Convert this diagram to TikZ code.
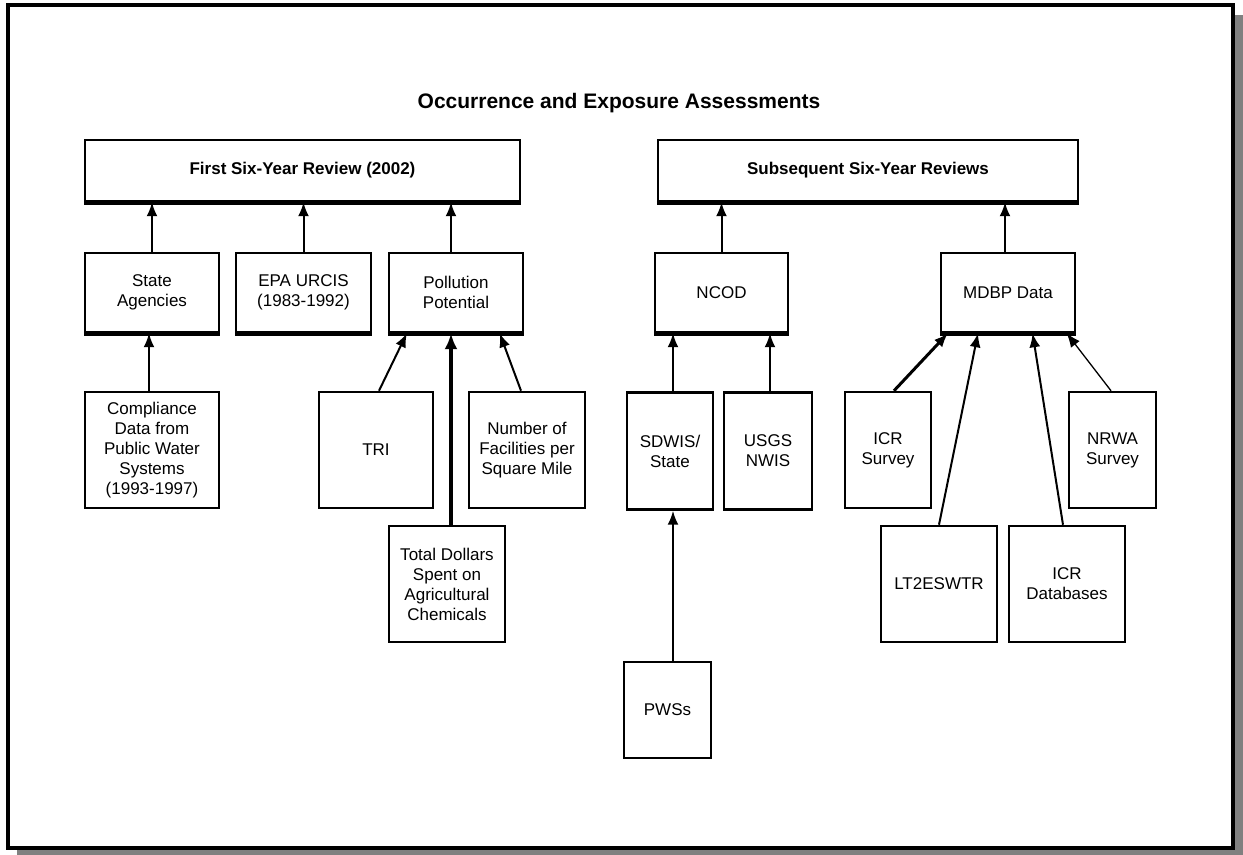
\documentclass[tikz,border=0pt]{standalone}
\usepackage{fontspec}
\setmainfont{Liberation Sans}
\usetikzlibrary{arrows.meta,calc}
\tikzset{srcbox/.style={draw, line width=1.25pt, align=center, inner sep=0pt, font=\fontsize{8.5}{10}\selectfont},
	headbox/.style={srcbox, font=\fontsize{8.5}{10}\selectfont\bfseries},
	feed/.style={line width=1pt, -{Latex[length=7pt,width=5.5pt]}}}

\begin{document}
\begin{tikzpicture}[x=0.5pt, y=-0.5pt]
\useasboundingbox (0,0) rectangle (1243,855);
\fill[gray] (17,15) rectangle (1243,855); % shadow
\draw[line width=2pt, fill=white] (8,5) rectangle (1232.5,848); % frame
\node[font=\fontsize{10.5}{12}\selectfont\bfseries] (title) at (619,103) {Occurrence and Exposure Assessments};
% reviews
\node[headbox, minimum width=217.5pt, minimum height=30.5pt] (first) at (302.5,170.5) {First Six-Year Review (2002)};
\node[headbox, minimum width=210pt, minimum height=30.5pt] (subseq) at (868,170.5) {Subsequent Six-Year Reviews};
% middle row
\node[srcbox, minimum width=67pt, minimum height=39.5pt] (state) at (152,292.5) {State\\Agencies};
\node[srcbox, minimum width=67.5pt, minimum height=39.5pt] (urcis) at (303.5,292.5) {EPA URCIS\\(1983-1992)};
\node[srcbox, minimum width=67pt, minimum height=39.5pt] (pollution) at (456,292.5) {Pollution\\Potential};
\node[srcbox, minimum width=66.5pt, minimum height=39.5pt] (ncod) at (721.5,292.5) {NCOD};
\node[srcbox, minimum width=67pt, minimum height=39.5pt] (mdbp) at (1008,292.5) {MDBP Data};
% data sources
\node[srcbox, minimum width=67pt, minimum height=58pt] (compliance) at (152,450) {Compliance\\Data from\\Public Water\\Systems\\(1993-1997)};
\node[srcbox, minimum width=57pt, minimum height=58pt] (tri) at (376,450) {TRI};
\node[srcbox, minimum width=58pt, minimum height=58pt] (facilities) at (527,450) {Number of\\Facilities per\\Square Mile};
\node[srcbox, minimum width=58pt, minimum height=58pt] (dollars) at (447,584) {Total Dollars\\Spent on\\Agricultural\\Chemicals};
\node[srcbox, minimum width=43pt, minimum height=58.5pt] (sdwis) at (670,451) {SDWIS/\\State};
\node[srcbox, minimum width=44pt, minimum height=58.5pt] (usgs) at (768,451) {USGS\\NWIS};
\node[srcbox, minimum width=43.5pt, minimum height=48pt] (pwss) at (667.5,710) {PWSs};
\node[srcbox, minimum width=43pt, minimum height=58pt] (icrsurvey) at (888,450) {ICR\\Survey};
\node[srcbox, minimum width=58pt, minimum height=58pt] (lt2) at (939,584) {LT2ESWTR};
\node[srcbox, minimum width=58pt, minimum height=58pt] (icrdb) at (1067,584) {ICR\\Databases};
\node[srcbox, minimum width=43.5pt, minimum height=58pt] (nrwa) at (1112.5,450) {NRWA\\Survey};
\foreach \n in {first,subseq,state,urcis,pollution,ncod,mdbp}
	\draw[line width=2pt] ([yshift=-0.4pt]\n.south west) -- ([yshift=-0.4pt]\n.south east); % heavy lower edge
% first review
\draw[feed] (state.north) -- (state.north |- first.south);
\draw[feed] (urcis.north) -- (urcis.north |- first.south);
\draw[feed] ([xshift=-2.5pt]pollution.north) -- ([xshift=-2.5pt]pollution.north |- first.south);
\draw[feed] ([xshift=-1.5pt]compliance.north) -- ([xshift=-1.5pt]state.south);
\draw[feed] ([xshift=1.5pt]tri.north) -- ($(pollution.south west)!0.14!(pollution.south east)$);
\draw[feed] ([xshift=-3pt]facilities.north) -- ($(pollution.south west)!0.82!(pollution.south east)$);
\draw[line width=2pt, -{Latex[length=8pt,width=6.5pt]}] ([xshift=2pt]dollars.north) -- ([xshift=2pt]dollars.north |- pollution.south);
% subsequent reviews
\draw[feed] (ncod.north) -- (ncod.north |- subseq.south);
\draw[feed] ([xshift=-1.5pt]mdbp.north) -- ([xshift=-1.5pt]mdbp.north |- subseq.south);
\draw[feed] ([xshift=1.5pt]sdwis.north) -- ([xshift=1.5pt]sdwis.north |- ncod.south);
\draw[feed] ([xshift=1pt]usgs.north) -- ([xshift=1pt]usgs.north |- ncod.south);
\draw[feed] ([xshift=1.5pt]sdwis.south |- pwss.north) -- ([xshift=1.5pt]sdwis.south);
\draw[feed, line width=1.5pt] ([xshift=3pt]icrsurvey.north) -- ($(mdbp.south west)!0.06!(mdbp.south east)$);
\draw[feed] (lt2.north) -- ($(mdbp.south west)!0.28!(mdbp.south east)$);
\draw[feed] ([xshift=-2pt]icrdb.north) -- ($(mdbp.south west)!0.68!(mdbp.south east)$);
\draw[feed, line width=0.65pt] ([xshift=-0.75pt]nrwa.north) -- ($(mdbp.south west)!0.93!(mdbp.south east)$);
\end{tikzpicture}
\end{document}
